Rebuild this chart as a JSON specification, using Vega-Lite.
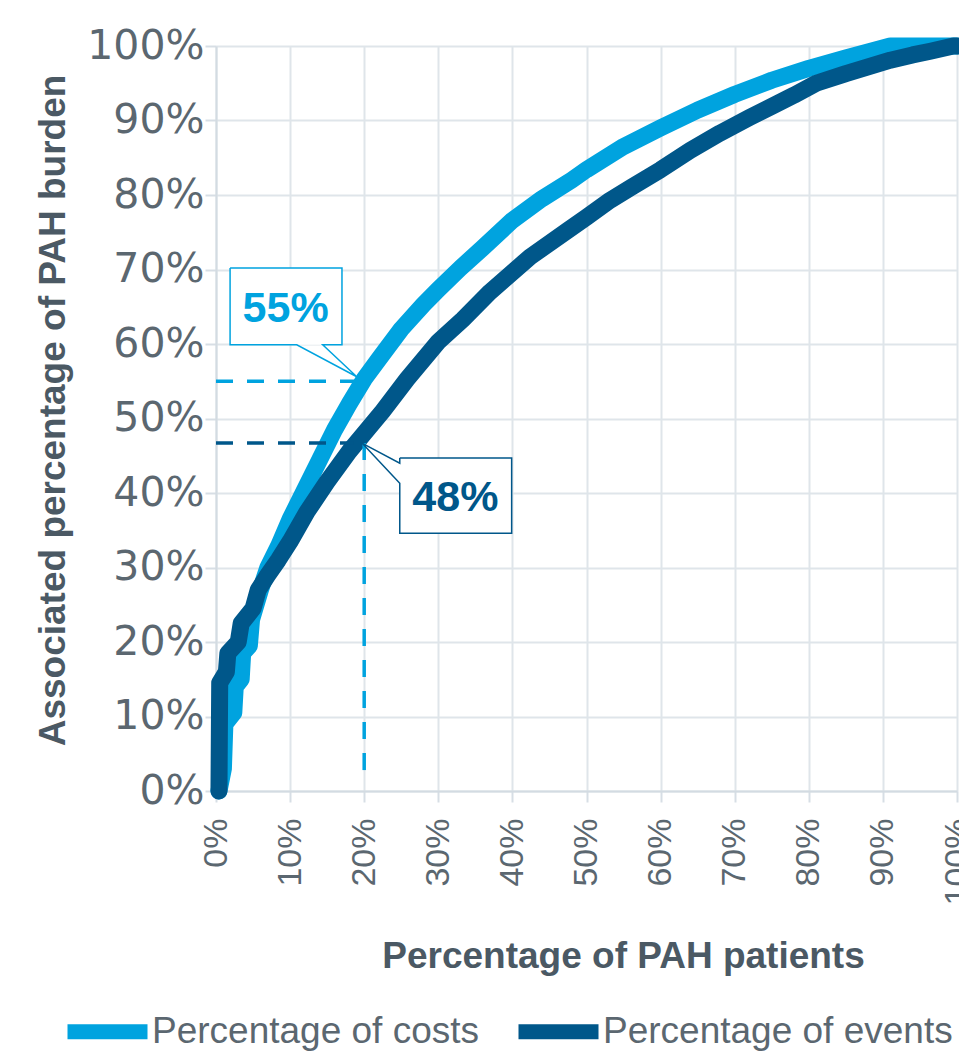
{
  "$schema": "https://vega.github.io/schema/vega-lite/v6.json",
  "width": 741,
  "height": 745,
  "autosize": "none",
  "padding": {"left": 216, "top": 46, "right": 2, "bottom": 260},
  "background": "white",
  "config": {
    "view": {"stroke": null},
    "axis": {
      "gridColor": "#dfe5ea",
      "gridWidth": 2,
      "tickColor": "#d7dee5",
      "tickWidth": 2,
      "tickSize": 11,
      "domainColor": "#d3dbe2",
      "domainWidth": 2,
      "labelColor": "#5b6770",
      "titleColor": "#4b5964",
      "labelOverlap": false,
      "labelFlush": false
    }
  },
  "datasets": {
    "curves": [
      {"s": "Percentage of costs", "x": 0.4, "y": 0},
      {"s": "Percentage of costs", "x": 1.0, "y": 3},
      {"s": "Percentage of costs", "x": 1.2, "y": 9},
      {"s": "Percentage of costs", "x": 2.4, "y": 10.5},
      {"s": "Percentage of costs", "x": 2.6, "y": 14},
      {"s": "Percentage of costs", "x": 3.4, "y": 15},
      {"s": "Percentage of costs", "x": 3.6, "y": 18.5},
      {"s": "Percentage of costs", "x": 4.5, "y": 19.5},
      {"s": "Percentage of costs", "x": 4.8, "y": 23},
      {"s": "Percentage of costs", "x": 6, "y": 27},
      {"s": "Percentage of costs", "x": 7, "y": 30},
      {"s": "Percentage of costs", "x": 8.5, "y": 33},
      {"s": "Percentage of costs", "x": 10, "y": 36.5},
      {"s": "Percentage of costs", "x": 12, "y": 40.5},
      {"s": "Percentage of costs", "x": 14, "y": 44.5},
      {"s": "Percentage of costs", "x": 16, "y": 48.5},
      {"s": "Percentage of costs", "x": 18, "y": 52},
      {"s": "Percentage of costs", "x": 20, "y": 55.3},
      {"s": "Percentage of costs", "x": 22, "y": 58},
      {"s": "Percentage of costs", "x": 25, "y": 62},
      {"s": "Percentage of costs", "x": 28, "y": 65.3},
      {"s": "Percentage of costs", "x": 30, "y": 67.3},
      {"s": "Percentage of costs", "x": 33, "y": 70.2},
      {"s": "Percentage of costs", "x": 36, "y": 72.9},
      {"s": "Percentage of costs", "x": 40, "y": 76.6},
      {"s": "Percentage of costs", "x": 44, "y": 79.5},
      {"s": "Percentage of costs", "x": 48, "y": 82},
      {"s": "Percentage of costs", "x": 50, "y": 83.4},
      {"s": "Percentage of costs", "x": 55, "y": 86.5},
      {"s": "Percentage of costs", "x": 60, "y": 89},
      {"s": "Percentage of costs", "x": 65, "y": 91.4},
      {"s": "Percentage of costs", "x": 70, "y": 93.5},
      {"s": "Percentage of costs", "x": 75, "y": 95.4},
      {"s": "Percentage of costs", "x": 80, "y": 97},
      {"s": "Percentage of costs", "x": 85, "y": 98.4},
      {"s": "Percentage of costs", "x": 88, "y": 99.2},
      {"s": "Percentage of costs", "x": 91, "y": 100},
      {"s": "Percentage of costs", "x": 100, "y": 100},
      {"s": "Percentage of events", "x": 0.4, "y": 0},
      {"s": "Percentage of events", "x": 0.5, "y": 14.5},
      {"s": "Percentage of events", "x": 1.4, "y": 16},
      {"s": "Percentage of events", "x": 1.6, "y": 18.5},
      {"s": "Percentage of events", "x": 3, "y": 20},
      {"s": "Percentage of events", "x": 3.4, "y": 22.5},
      {"s": "Percentage of events", "x": 5, "y": 24.5},
      {"s": "Percentage of events", "x": 5.7, "y": 27},
      {"s": "Percentage of events", "x": 7, "y": 29},
      {"s": "Percentage of events", "x": 8.4, "y": 31},
      {"s": "Percentage of events", "x": 10, "y": 33.5},
      {"s": "Percentage of events", "x": 12.3, "y": 37.5},
      {"s": "Percentage of events", "x": 15, "y": 41.5},
      {"s": "Percentage of events", "x": 18, "y": 45.6},
      {"s": "Percentage of events", "x": 20, "y": 48},
      {"s": "Percentage of events", "x": 22.5, "y": 51},
      {"s": "Percentage of events", "x": 25.8, "y": 55.3},
      {"s": "Percentage of events", "x": 30, "y": 60.3},
      {"s": "Percentage of events", "x": 33.3, "y": 63.3},
      {"s": "Percentage of events", "x": 37, "y": 67},
      {"s": "Percentage of events", "x": 42.4, "y": 71.7},
      {"s": "Percentage of events", "x": 47.4, "y": 75.2},
      {"s": "Percentage of events", "x": 50, "y": 77},
      {"s": "Percentage of events", "x": 53.2, "y": 79.3},
      {"s": "Percentage of events", "x": 56, "y": 81},
      {"s": "Percentage of events", "x": 60, "y": 83.4},
      {"s": "Percentage of events", "x": 64, "y": 86},
      {"s": "Percentage of events", "x": 68, "y": 88.3},
      {"s": "Percentage of events", "x": 72, "y": 90.4},
      {"s": "Percentage of events", "x": 75.2, "y": 92},
      {"s": "Percentage of events", "x": 78, "y": 93.4},
      {"s": "Percentage of events", "x": 81, "y": 95},
      {"s": "Percentage of events", "x": 85, "y": 96.3},
      {"s": "Percentage of events", "x": 88, "y": 97.2},
      {"s": "Percentage of events", "x": 91, "y": 98.1},
      {"s": "Percentage of events", "x": 94, "y": 98.8},
      {"s": "Percentage of events", "x": 96.4, "y": 99.3},
      {"s": "Percentage of events", "x": 99.5, "y": 100},
      {"s": "Percentage of events", "x": 100, "y": 100}
    ],
    "lightDash": [
      {"x": 0, "x2": 19, "y": 55, "y2": 55},
      {"x": 20, "x2": 20, "y": 46.7, "y2": 2.2}
    ],
    "darkDash": [
      {"x": 0, "x2": 18.5, "y": 46.7, "y2": 46.7}
    ],
    "boxes": [
      {"x": 1.9, "x2": 17.0, "y": 59.9, "y2": 70.2},
      {"x": 24.8, "x2": 39.9, "y": 34.6, "y2": 44.7}
    ],
    "lightCallout": [
      {"i": 1, "x": 1.9, "y": 70.2},
      {"i": 2, "x": 17.0, "y": 70.2},
      {"i": 3, "x": 17.0, "y": 59.9},
      {"i": 4, "x": 14.4, "y": 59.9},
      {"i": 5, "x": 19.0, "y": 55.6},
      {"i": 6, "x": 10.9, "y": 59.9},
      {"i": 7, "x": 1.9, "y": 59.9},
      {"i": 8, "x": 1.9, "y": 70.2}
    ],
    "darkCallout": [
      {"i": 1, "x": 24.8, "y": 44.7},
      {"i": 2, "x": 39.9, "y": 44.7},
      {"i": 3, "x": 39.9, "y": 34.6},
      {"i": 4, "x": 24.8, "y": 34.6},
      {"i": 5, "x": 24.8, "y": 41.3},
      {"i": 6, "x": 19.7, "y": 46.7},
      {"i": 7, "x": 24.8, "y": 44.0},
      {"i": 8, "x": 24.8, "y": 44.7}
    ],
    "lightText": [{"x": 9.4, "y": 63.0, "t": "55%"}],
    "darkText": [{"x": 32.3, "y": 37.6, "t": "48%"}]
  },
  "layer": [
    {
      "data": {"name": "curves"},
      "mark": {"type": "line", "strokeWidth": 17, "strokeJoin": "round", "strokeCap": "round"},
      "encoding": {
        "x": {
          "field": "x", "type": "quantitative",
          "scale": {"domain": [0, 100], "nice": false},
          "axis": {
            "values": [0, 10, 20, 30, 40, 50, 60, 70, 80, 90, 100],
            "labelExpr": "datum.value + '%'",
            "labelAngle": -90,
            "labelFont": "Liberation Sans",
            "labelFontSize": 34,
            "labelPadding": 16,
            "title": "Percentage of PAH patients",
            "titleFont": "Liberation Sans",
            "titleFontWeight": "bold",
            "titleFontSize": 37,
            "titleX": 407,
            "titleY": 176,
            "titleAlign": "center",
            "titleBaseline": "alphabetic"
          }
        },
        "y": {
          "field": "y", "type": "quantitative",
          "scale": {"domain": [0, 100], "nice": false},
          "axis": {
            "values": [0, 10, 20, 30, 40, 50, 60, 70, 80, 90, 100],
            "labelExpr": "datum.value + '%'",
            "labelFont": "DejaVu Sans",
            "labelFontSize": 41,
            "labelPadding": 1,
            "title": "Associated percentage of PAH burden",
            "titleFont": "Liberation Sans",
            "titleFontWeight": "bold",
            "titleFontSize": 37,
            "titleX": -152,
            "titleY": 364,
            "titleAlign": "center",
            "titleBaseline": "alphabetic"
          }
        },
        "color": {
          "field": "s", "type": "nominal",
          "scale": {"domain": ["Percentage of costs", "Percentage of events"], "range": ["#00a3df", "#00578a"]},
          "legend": {
            "title": null,
            "orient": "none",
            "direction": "horizontal",
            "legendX": -156,
            "legendY": 938,
            "padding": 0,
            "symbolType": "stroke",
            "symbolSize": 6400,
            "symbolStrokeWidth": 15,
            "labelFont": "Liberation Sans",
            "labelFontSize": 37,
            "labelLimit": 600,
            "labelColor": "#5b6770",
            "labelOffset": -3,
            "columnPadding": 8
          }
        }
      }
    },
    {
      "data": {"name": "lightDash"},
      "mark": {"type": "rule", "color": "#00a3df", "strokeWidth": 3.5, "strokeDash": [17, 14]},
      "encoding": {
        "x": {"field": "x", "type": "quantitative", "scale": {"domain": [0, 100], "nice": false}},
        "x2": {"field": "x2"},
        "y": {"field": "y", "type": "quantitative", "scale": {"domain": [0, 100], "nice": false}},
        "y2": {"field": "y2"}
      }
    },
    {
      "data": {"name": "darkDash"},
      "mark": {"type": "rule", "color": "#00578a", "strokeWidth": 3.5, "strokeDash": [17, 14]},
      "encoding": {
        "x": {"field": "x", "type": "quantitative", "scale": {"domain": [0, 100], "nice": false}},
        "x2": {"field": "x2"},
        "y": {"field": "y", "type": "quantitative", "scale": {"domain": [0, 100], "nice": false}},
        "y2": {"field": "y2"}
      }
    },
    {
      "data": {"name": "boxes"},
      "mark": {"type": "rect", "fill": "white"},
      "encoding": {
        "x": {"field": "x", "type": "quantitative", "scale": {"domain": [0, 100], "nice": false}},
        "x2": {"field": "x2"},
        "y": {"field": "y", "type": "quantitative", "scale": {"domain": [0, 100], "nice": false}},
        "y2": {"field": "y2"}
      }
    },
    {
      "data": {"name": "lightCallout"},
      "mark": {"type": "line", "color": "#00a3df", "strokeWidth": 1.5},
      "encoding": {
        "x": {"field": "x", "type": "quantitative", "scale": {"domain": [0, 100], "nice": false}},
        "y": {"field": "y", "type": "quantitative", "scale": {"domain": [0, 100], "nice": false}},
        "order": {"field": "i", "type": "quantitative"}
      }
    },
    {
      "data": {"name": "darkCallout"},
      "mark": {"type": "line", "color": "#00578a", "strokeWidth": 1.5},
      "encoding": {
        "x": {"field": "x", "type": "quantitative", "scale": {"domain": [0, 100], "nice": false}},
        "y": {"field": "y", "type": "quantitative", "scale": {"domain": [0, 100], "nice": false}},
        "order": {"field": "i", "type": "quantitative"}
      }
    },
    {
      "data": {"name": "lightText"},
      "mark": {"type": "text", "color": "#00a3df", "font": "Liberation Sans", "fontWeight": "bold", "fontSize": 43, "align": "center", "baseline": "alphabetic"},
      "encoding": {
        "x": {"field": "x", "type": "quantitative", "scale": {"domain": [0, 100], "nice": false}},
        "y": {"field": "y", "type": "quantitative", "scale": {"domain": [0, 100], "nice": false}},
        "text": {"field": "t"}
      }
    },
    {
      "data": {"name": "darkText"},
      "mark": {"type": "text", "color": "#00578a", "font": "Liberation Sans", "fontWeight": "bold", "fontSize": 43, "align": "center", "baseline": "alphabetic"},
      "encoding": {
        "x": {"field": "x", "type": "quantitative", "scale": {"domain": [0, 100], "nice": false}},
        "y": {"field": "y", "type": "quantitative", "scale": {"domain": [0, 100], "nice": false}},
        "text": {"field": "t"}
      }
    }
  ]
}
